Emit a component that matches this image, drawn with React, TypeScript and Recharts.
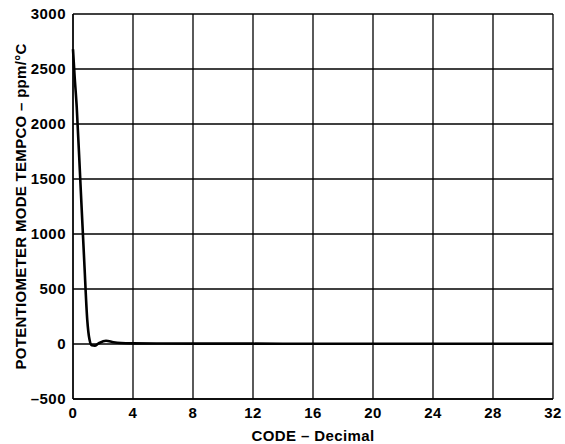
import React from 'react';
import { LineChart, Line, XAxis, YAxis, CartesianGrid } from 'recharts';

const codes = [0, 0.1, 0.25, 0.5, 0.75, 0.95, 1.1, 1.25, 1.45, 1.7, 2.2, 2.7, 3.2, 4, 6, 8, 12, 16, 20, 24, 28, 32];
const tempco = [2680, 2450, 2150, 1450, 750, 220, 40, -12, -15, 5, 30, 16, 9, 6, 4, 3, 3, 2, 2, 2, 2, 2];
const xTicks = [0, 4, 8, 12, 16, 20, 24, 28, 32];
const yTicks = [-500, 0, 500, 1000, 1500, 2000, 2500, 3000];

const data = codes.map((c, i) => ({ code: c, v: tempco[i] }));
const fmt = (v: number) => String(v).replace('-', '\u2013');
const font = 'Liberation Sans, Arial, sans-serif';

export default function App() {
  return (
    <div style={{ position: 'absolute', left: 0, top: 0, background: '#fff' }}>
      <LineChart width={565} height={444} data={data} margin={{ top: 14, right: 12, left: 0, bottom: 0 }}>
        <CartesianGrid stroke="#000" strokeWidth={1.3} horizontalValues={yTicks} verticalValues={xTicks} />
        <XAxis
          dataKey="code"
          type="number"
          domain={[0, 32]}
          ticks={xTicks}
          height={45}
          tickLine={false}
          axisLine={{ stroke: '#000', strokeWidth: 1.3 }}
          tickSize={0}
          tickMargin={8}
          tick={{ fill: '#000', fontSize: 15, fontWeight: 'bold', fontFamily: font, letterSpacing: 0.5 }}
          label={{ value: 'CODE \u2013 Decimal', position: 'insideBottom', offset: 3, fill: '#000', fontSize: 15, fontWeight: 'bold', fontFamily: font, letterSpacing: 0.4 }}
        />
        <YAxis
          type="number"
          domain={[-500, 3000]}
          ticks={yTicks}
          width={73}
          tickLine={false}
          axisLine={{ stroke: '#000', strokeWidth: 1.3 }}
          tickSize={0}
          tickMargin={7}
          tickFormatter={fmt}
          tick={{ fill: '#000', fontSize: 15, fontWeight: 'bold', fontFamily: font, letterSpacing: 0.5 }}
          label={{ value: 'POTENTIOMETER MODE TEMPCO \u2013 ppm/\u00B0C', angle: -90, position: 'insideLeft', offset: 21, style: { textAnchor: 'middle' }, fill: '#000', fontSize: 15, fontWeight: 'bold', fontFamily: font, letterSpacing: 0.3 }}
        />
        <Line type="monotone" dataKey="v" stroke="#000" strokeWidth={2.6} dot={false} isAnimationActive={false} />
      </LineChart>
    </div>
  );
}
